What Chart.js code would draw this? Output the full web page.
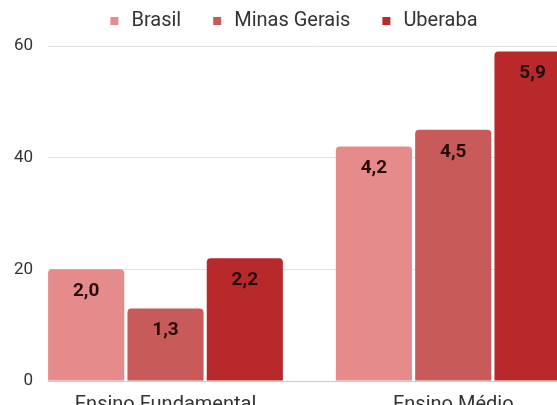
<!DOCTYPE html>
<html><head><meta charset="utf-8">
<script src="https://cdn.jsdelivr.net/npm/chart.js@4/dist/chart.umd.min.js"></script>
<style>
html,body{margin:0;padding:0;overflow:hidden;background:#fff;width:557px;height:405px}
#wrap{position:relative;width:585px;height:430px}
</style></head>
<body><div id="wrap"><canvas id="c"></canvas></div>
<script>
const categories = ['Ensino Fundamental', 'Ensino Médio'];
const seriesNames = ['Brasil', 'Minas Gerais', 'Uberaba'];
const brasil = [20, 42];
const minasGerais = [13, 45];
const uberaba = [22, 59];
const brasilLabels = ['2,0', '4,2'];
const minasLabels = ['1,3', '4,5'];
const uberabaLabels = ['2,2', '5,9'];
const yTicks = [0, 20, 40, 60];

const colors = ['#E58B8B', '#C85A5A', '#B8292B'];
const seriesValues = [brasil, minasGerais, uberaba];
const seriesLabels = [brasilLabels, minasLabels, uberabaLabels];
const FONT = 'Roboto';

const valueLabels = {
  id: 'valueLabels',
  afterDatasetsDraw(chart) {
    const ctx = chart.ctx;
    ctx.save();
    ctx.font = 'bold 19px ' + FONT;
    ctx.fillStyle = '#240c0c';
    ctx.textAlign = 'center';
    ctx.textBaseline = 'middle';
    chart.data.datasets.forEach((ds, di) => {
      const meta = chart.getDatasetMeta(di);
      meta.data.forEach((bar, i) => {
        ctx.fillText(seriesLabels[di][i], bar.x, bar.y + 22);
      });
    });
    ctx.restore();
  }
};

new Chart(document.getElementById('c'), {
  type: 'bar',
  data: {
    datasets: seriesNames.map((name, si) => ({
      label: name,
      data: seriesValues[si].map((v, i) => ({ x: i, y: v })),
      backgroundColor: colors[si],
      borderWidth: 0,
      borderRadius: { topLeft: 4, topRight: 4, bottomLeft: 0, bottomRight: 0 },
      borderSkipped: 'bottom',
      categoryPercentage: 0.827,
      barPercentage: 0.96
    }))
  },
  options: {
    responsive: true,
    maintainAspectRatio: false,
    animation: false,
    layout: { padding: { top: -18, left: 0, right: 0, bottom: 0 } },
    plugins: {
      legend: {
        position: 'top',
        labels: {
          usePointStyle: true, pointStyle: 'rect',
          boxWidth: 14, boxHeight: 8, padding: 29,
          color: '#333', font: { family: FONT, size: 20 }
        }
      },
      tooltip: { enabled: false }
    },
    scales: {
      x: {
        type: 'linear',
        offset: false,
        min: -0.4084, max: 1.458,
        afterBuildTicks: s => { s.ticks = categories.map((c, i) => ({ value: i })); },
        afterFit: s => { s.height = 49; },
        grid: { display: false },
        border: { display: false },
        ticks: {
          callback: v => categories[v] ?? '',
          color: '#333', font: { family: FONT, size: 20 },
          padding: 4, maxRotation: 0, autoSkip: false
        }
      },
      xTop: {
        type: 'linear',
        position: 'top',
        display: true,
        afterFit: s => { s.height = 5; },
        grid: { display: false, drawTicks: false },
        border: { display: false },
        ticks: { display: false }
      },
      y: {
        min: 0, max: 60,
        afterBuildTicks: s => { s.ticks = yTicks.map(v => ({ value: v })); },
        afterFit: s => { s.width = 48; },
        grid: { color: ctx => ctx.tick && ctx.tick.value === 0 ? '#c8c8c8' : '#e2e2e2', drawTicks: false },
        border: { display: false },
        ticks: { color: '#333', font: { family: FONT, size: 17 }, padding: 15 }
      }
    }
  },
  plugins: [valueLabels]
});
</script>
</body></html>
